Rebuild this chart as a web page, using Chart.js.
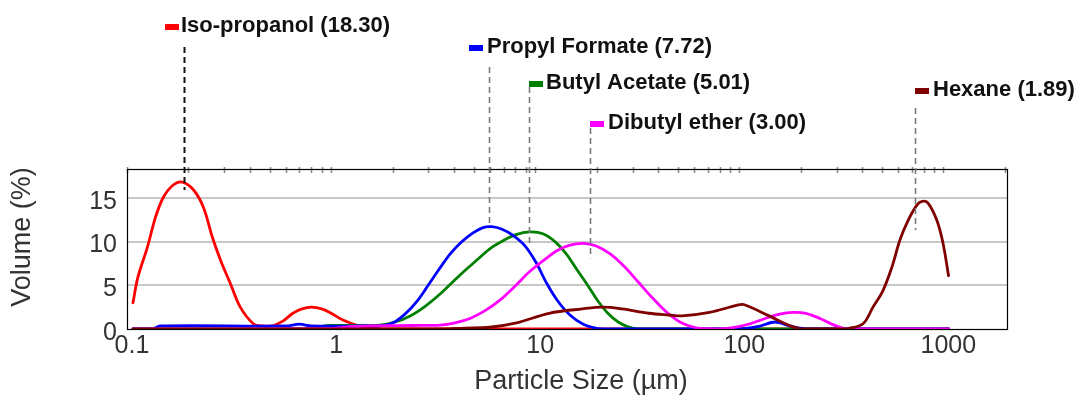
<!DOCTYPE html>
<html>
<head>
<meta charset="utf-8">
<script src="https://cdn.jsdelivr.net/npm/chart.js@4.4.1/dist/chart.umd.min.js"></script>
<style>
  html, body { margin: 0; padding: 0; background: #ffffff; }
  #wrap { width: 1079px; height: 396px; }
</style>
</head>
<body>
<div id="wrap"><canvas id="c" width="1079" height="396"></canvas></div>
<script>
// ---------- data ----------
const seriesNames = ['Iso-propanol', 'Propyl Formate', 'Butyl Acetate', 'Dibutyl ether', 'Hexane'];
const seriesValues = ['18.30', '7.72', '5.01', '3.00', '1.89'];
const seriesColors = ['#ff0000', '#0000ff', '#008000', '#ff00ff', '#800000'];

const isoSize   = [0.107, 0.113, 0.126, 0.138, 0.151, 0.169, 0.187, 0.212, 0.237, 0.262, 0.287, 0.321, 0.359, 0.416, 0.46, 0.52, 0.58, 0.65, 0.72, 0.80, 0.90, 1.0, 1.15, 1.35, 1.6, 1.9, 1060];
const isoVolume = [3.0,   5.9,   9.4,   12.8,  15.1,  16.5,  16.8,  15.9,  13.9,  10.5,  7.9,   5.2,   2.5,   0.6,   0.35, 0.4,  0.9,  1.8,  2.3,  2.5,  2.3,  1.8, 1.0,  0.4,  0.1, 0,   0];

const propylSize   = [0.107, 0.135, 0.145, 0.6,  0.7,  0.8,  1.5,  1.74, 2.01, 2.30, 2.64, 2.99, 3.42, 3.87, 4.38, 4.96, 5.55, 6.14, 6.88, 7.79, 8.91, 10.1, 11.4, 12.9, 14.8, 17.2, 20.1, 23.3, 100, 125, 150, 180, 220, 1060];
const propylVolume = [0.0,   0.05,  0.35,  0.35, 0.55, 0.35, 0.35, 0.35, 0.7,  1.7,  3.2,  5.0,  7.0,  8.7,  10.0, 11.0, 11.6, 11.7, 11.4, 10.7, 9.5,  7.6,  5.2,  3.2,  1.6,  0.55, 0.08, 0,    0,   0.3, 0.8, 0.3, 0,   0];

const butylSize   = [0.107, 0.8, 0.9, 1.0, 1.5, 1.74, 2.06, 2.44, 2.89, 3.42, 3.91, 4.53, 5.25, 6.01, 6.96, 8.05, 9.43, 10.9, 12.5, 14.2, 16.0, 18.2, 20.3, 22.7, 25.5, 28.5, 31.9, 36.5, 1060];
const butylVolume = [0,     0,   0.3, 0.4, 0.4, 0.45, 0.8,  1.5,  2.6,  4.0,  5.3,  6.7,  8.0,  9.2,  10.1, 10.8, 11.1, 10.9, 10.0, 8.6,  6.8,  4.9,  3.2,  1.8,  0.8,  0.25, 0.02, 0,    0];

const dibutylSize   = [0.107, 1.0,  1.3, 2.5, 3.42, 4.05, 4.79, 5.68, 6.72, 7.96, 9.43, 11.2, 12.9, 14.8, 17.2, 19.9, 23.3, 27.2, 31.9, 37.4, 43.7, 51.2, 60.0, 70.3, 85.1, 93.1, 113, 134, 158, 183, 212, 249, 288, 330,  390, 1060];
const dibutylVolume = [0,     0.05, 0.3, 0.4, 0.45, 0.7,  1.2,  2.1,  3.3,  4.9,  6.6,  8.0,  9.0,  9.6,  9.8,  9.5,  8.6,  7.2,  5.4,  3.6,  2.0,  0.8,  0.2,  0.03, 0.05, 0.15, 0.6, 1.2, 1.7, 1.9, 1.8, 1.2, 0.5, 0.05, 0,   0];

const hexaneSize   = [0.107, 3.5, 4.5, 5.98, 8.11, 11.7, 17.0, 21.5, 26.6, 36.1, 45.2, 52.5, 71.5, 97,  105, 140, 176, 197,  317, 342,  404, 452, 506, 560, 613,  671,  743,  786,  841,  930,  996, 1060];
const hexaneVolume = [0,     0,   0.1, 0.2,  0.7,  1.8,  2.3,  2.5,  2.3,  1.8,  1.6,  1.5,  1.9,  2.7, 2.8, 1.5, 0.4, 0.05, 0,   0.05, 0.6, 2.5, 4.4, 7.1, 10.2, 12.4, 14.2, 14.6, 14.4, 12.4, 9.8, 6.1];

// peak markers: particle size of the dashed line and the volume where it stops
const peakSizes   = [0.190, 5.94, 9.33, 18.6, 726];
const peakLineEnd = [15.9, 11.9, 9.8, 8.1, 11.3];

const xTickValues = [0.1, 1, 10, 100, 1000];
const xTickLabels = ['0.1', '1', '10', '100', '1000'];
const yTickValues = [0, 5, 10, 15];
const xTitle = 'Particle Size (µm)';
const yTitle = 'Volume (%)';

// ---------- layout / style (not data) ----------
const labelLayout = [
  { markerDx: -20, textDx: -4, baseline: 32,  lineTop: 47,  lineColor: '#111111', lineWidth: 2 },
  { markerDx: -21, textDx: -3, baseline: 53,  lineTop: 67,  lineColor: '#7a7a7a', lineWidth: 1.6 },
  { markerDx: -1,  textDx: 16, baseline: 89,  lineTop: 87,  lineColor: '#7a7a7a', lineWidth: 1.6 },
  { markerDx: -1,  textDx: 17, baseline: 129, lineTop: 128, lineColor: '#7a7a7a', lineWidth: 1.6 },
  { markerDx: -1,  textDx: 17, baseline: 96,  lineTop: 108, lineColor: '#7a7a7a', lineWidth: 1.6 }
];
const drawOrder = [4, 2, 3, 1, 0];
const FONT = '"Liberation Sans", Arial, sans-serif';

const sizes = [isoSize, propylSize, butylSize, dibutylSize, hexaneSize];
const volumes = [isoVolume, propylVolume, butylVolume, dibutylVolume, hexaneVolume];

const frameAndTicks = {
  id: 'frameAndTicks',
  afterDatasetsDraw(chart) {
    const { ctx, chartArea: a, scales: { x } } = chart;
    ctx.save();
    // minor/major tick marks on top edge
    ctx.strokeStyle = '#8c8c8c';
    ctx.lineWidth = 1.6;
    for (let k = -1; k <= 3; k++) {
      for (let n = 1; n <= 9; n++) {
        const v = n * Math.pow(10, k);
        if (v < x.min || v > x.max) continue;
        const px = Math.round(x.getPixelForValue(v)) + 0.5;
        ctx.beginPath();
        ctx.moveTo(px, a.top - 2);
        ctx.lineTo(px, a.top + 4);
        ctx.stroke();
      }
    }
    // frame
    ctx.strokeStyle = '#000000';
    ctx.lineWidth = 1.2;
    ctx.strokeRect(Math.round(a.left) + 0.5, Math.round(a.top) + 0.5, Math.round(a.right - a.left), Math.round(a.bottom - a.top));
    ctx.restore();
  },
  afterDraw(chart) {
    const { ctx, chartArea: a, scales: { x, y } } = chart;
    ctx.save();
    // axis titles
    ctx.fillStyle = '#333333';
    ctx.font = '27px ' + FONT;
    ctx.textAlign = 'center';
    ctx.textBaseline = 'alphabetic';
    ctx.fillText(xTitle, (a.left + a.right) / 2 + 14, 389);
    ctx.save();
    ctx.translate(30, (a.top + a.bottom) / 2 - 12);
    ctx.rotate(-Math.PI / 2);
    ctx.fillText(yTitle, 0, 0);
    ctx.restore();
    // peak annotations
    seriesNames.forEach((name, i) => {
      const L = labelLayout[i];
      const px = Math.round(x.getPixelForValue(peakSizes[i])) + 0.5;
      ctx.strokeStyle = L.lineColor;
      ctx.lineWidth = L.lineWidth;
      ctx.setLineDash([6, 4]);
      ctx.beginPath();
      ctx.moveTo(px, L.lineTop);
      ctx.lineTo(px, y.getPixelForValue(peakLineEnd[i]));
      ctx.stroke();
      ctx.setLineDash([]);
      ctx.fillStyle = seriesColors[i];
      ctx.fillRect(Math.round(px + L.markerDx), L.baseline - 8, 14, 6);
      ctx.fillStyle = '#111111';
      ctx.font = 'bold 22px ' + FONT;
      ctx.textBaseline = 'alphabetic';
      ctx.textAlign = 'left';
      ctx.fillText(name + ' (' + seriesValues[i] + ')', Math.round(px + L.textDx), L.baseline);
    });
    ctx.restore();
  }
};

const datasets = seriesNames.map((name, i) => ({
  label: name,
  data: sizes[i].map((s, j) => ({ x: s, y: volumes[i][j] })),
  borderColor: seriesColors[i],
  backgroundColor: seriesColors[i],
  borderWidth: 2.8,
  pointRadius: 0,
  fill: false,
  tension: 0.35,
  borderJoinStyle: 'round',
  borderCapStyle: 'round',
  order: drawOrder[i]
}));

new Chart(document.getElementById('c'), {
  type: 'line',
  data: { datasets },
  plugins: [frameAndTicks],
  options: {
    responsive: false,
    animation: false,
    layout: { padding: { left: 0, right: 72, top: 169, bottom: 0 } },
    plugins: { legend: { display: false }, tooltip: { enabled: false } },
    scales: {
      x: {
        type: 'logarithmic',
        min: 0.1,
        max: 2050,
        afterBuildTicks: (s) => { s.ticks = xTickValues.map(v => ({ value: v, major: true })); },
        afterFit: (s) => { s.height = 67; },
        grid: { display: false, drawTicks: false },
        border: { display: false },
        ticks: {
          autoSkip: false,
          maxRotation: 0,
          padding: 2,
          labelOffset: 5,
          color: '#333333',
          font: { family: FONT, size: 25 },
          callback: (v, i) => xTickLabels[i]
        },
        title: { display: false }
      },
      y: {
        type: 'linear',
        min: 0,
        max: 18.3,
        afterBuildTicks: (s) => { s.ticks = yTickValues.map(v => ({ value: v })); },
        afterFit: (s) => { s.width = 127; },
        grid: {
          drawTicks: false,
          color: (c) => (c.tick && c.tick.value === 0) ? 'rgba(0,0,0,0)' : '#c8c8c8',
          lineWidth: 2
        },
        border: { display: false },
        ticks: {
          padding: 10,
          labelOffset: 4,
          color: '#333333',
          font: { family: FONT, size: 25 }
        },
        title: { display: false }
      }
    }
  }
});
</script>
</body>
</html>
